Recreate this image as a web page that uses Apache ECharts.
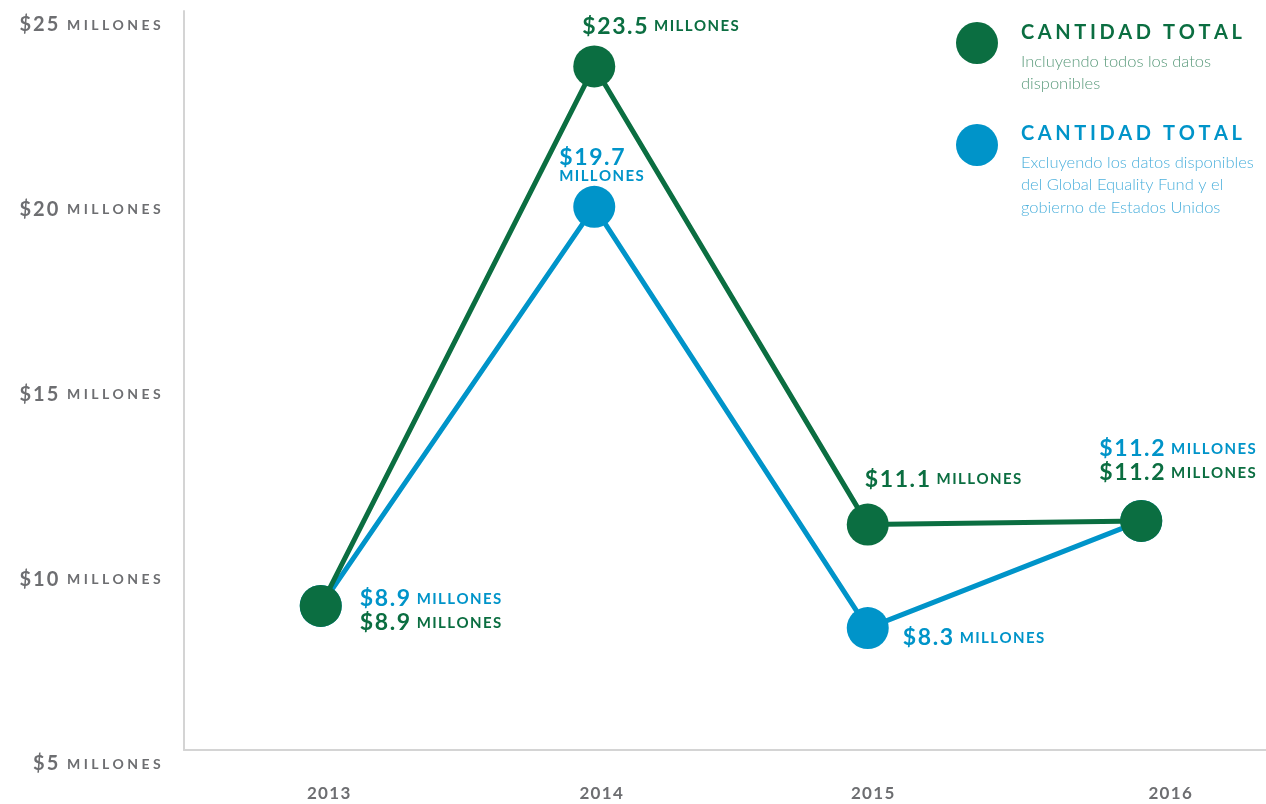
<!DOCTYPE html>
<html>
<head>
<meta charset="utf-8">
<script src="https://cdn.jsdelivr.net/npm/echarts@6/dist/echarts.min.js"></script>
<style>
  html, body { margin: 0; padding: 0; background: #fff; overflow: hidden; }
  /* slightly wider than the window so the plot runs off the right edge like the original */
  #chart { width: 1278px; height: 804px; }
</style>
</head>
<body>
<div id="chart"></div>
<script>
// data
const years = ['2013', '2014', '2015', '2016'];
const totalIncl = [8.9, 23.5, 11.1, 11.2];   // incluyendo todos los datos
const totalExcl = [8.9, 19.7, 8.3, 11.2];    // excluyendo Global Equality Fund y gobierno EE.UU.
const yTicks = [5, 10, 15, 20, 25];
const unitText = 'MILLONES';
const legendTitle = 'CANTIDAD TOTAL';
const legendNotes = {
    incl: ['Incluyendo todos los datos', 'disponibles'],
    excl: ['Excluyendo los datos disponibles', 'del Global Equality Fund y el', 'gobierno de Estados Unidos']
};

// styling
const GREEN = '#0b6e41';
const BLUE = '#0094c9';
const GRAY = '#6d6e71';
const FONT = 'Lato';
const inclLabelOffsets = [[39, 17], [-12, -40], [-3, -45], [-42, -48]];
const exclLabelOffsets = [[39, -7], [-35, -42], [35, 10], [-42, -72]];
const yearLabelPad = [17, 15, 11, 59];

// zrender has no letter-spacing, so each character becomes a padded rich token
const spaced = (text, style) => text.split('').map(c => '{' + style + '|' + c + '}').join('');

const valueRich = (color) => ({
    v: { fontFamily: FONT, fontSize: 23, fontWeight: 'bold', color: color, padding: [0, 1.6, 0, 0] },
    u: { fontFamily: FONT, fontSize: 15, fontWeight: 'bold', color: color, padding: [0, 1.4, 0, 0] }
});

function buildData(values, offsets, twoLineIdx) {
    return values.map((v, i) => ({
        value: v,
        label: {
            offset: offsets[i],
            formatter: spaced('$' + v, 'v') + (i === twoLineIdx ? '\n' : '{u| }') + spaced(unitText, 'u')
        }
    }));
}

function legendItem(key, color, noteColor, top, padTop) {
    return {
        top: top,
        left: 956,
        orient: 'vertical',
        padding: 0,
        itemWidth: 42,
        itemHeight: 42,
        icon: 'circle',
        selectedMode: false,
        data: [key],
        formatter: () => spaced(legendTitle, 't') + '\n' + legendNotes[key].map(s => '{s|' + s + '}').join('\n'),
        textStyle: {
            padding: [padTop, 0, 0, 18],
            rich: {
                t: { fontFamily: FONT, fontSize: 20, fontWeight: 'bold', color: color, padding: [0, 3.6, 0, 0], lineHeight: 34 },
                s: { fontFamily: FONT, fontSize: 16.5, fontWeight: 300, color: noteColor, lineHeight: 22.5 }
            }
        }
    };
}

const chart = echarts.init(document.getElementById('chart'));
const option = {
    animation: false,
    backgroundColor: '#fff',
    grid: { left: 184, right: 0, top: 11, bottom: 54, containLabel: false },
    legend: [
        legendItem('incl', GREEN, '#5a9a7b', 22, 25),
        legendItem('excl', BLUE, '#4cb0dc', 124, 45.5)
    ],
    xAxis: {
        type: 'category',
        data: years.map((y, i) => ({ value: y, textStyle: { padding: [0, 0, 0, yearLabelPad[i]] } })),
        boundaryGap: true,
        axisLine: { lineStyle: { color: '#d4d4d4', width: 2 } },
        axisTick: { show: false },
        axisLabel: {
            margin: 35,
            formatter: (v) => spaced(v, 'y'),
            rich: {
                y: { fontFamily: FONT, fontSize: 17, fontWeight: 'bold', color: GRAY, padding: [0, 1.3, 0, 0] }
            }
        }
    },
    yAxis: {
        type: 'value',
        min: yTicks[0],
        max: yTicks[yTicks.length - 1],
        interval: 5,
        axisLine: { show: true, lineStyle: { color: '#d4d4d4', width: 2 } },
        axisTick: { show: false },
        splitLine: { show: false },
        axisLabel: {
            margin: 20,
            verticalAlign: 'top',
            padding: [4, 0, 0, 0],
            formatter: (v) => spaced('$' + v, 'a') + '{b| }' + spaced(unitText, 'b'),
            rich: {
                a: { fontFamily: FONT, fontSize: 20, fontWeight: 'bold', color: GRAY, padding: [0, 2, 0, 0] },
                b: { fontFamily: FONT, fontSize: 14, fontWeight: 'bold', color: GRAY, padding: [0, 3.4, 0, 0] }
            }
        }
    },
    series: [
        {
            name: 'excl',
            type: 'line',
            data: buildData(totalExcl, exclLabelOffsets, 1),
            symbol: 'circle',
            symbolSize: 42,
            color: BLUE,
            lineStyle: { color: BLUE, width: 5 },
            itemStyle: { color: BLUE },
            label: { show: true, position: 'inside', align: 'left', verticalAlign: 'middle', rich: valueRich(BLUE) },
            z: 2
        },
        {
            name: 'incl',
            type: 'line',
            data: buildData(totalIncl, inclLabelOffsets, -1),
            symbol: 'circle',
            symbolSize: 42,
            color: GREEN,
            lineStyle: { color: GREEN, width: 5 },
            itemStyle: { color: GREEN },
            label: { show: true, position: 'inside', align: 'left', verticalAlign: 'middle', rich: valueRich(GREEN) },
            z: 3
        }
    ]
};
chart.setOption(option);
window.addEventListener('resize', () => chart.resize());
</script>
</body>
</html>
